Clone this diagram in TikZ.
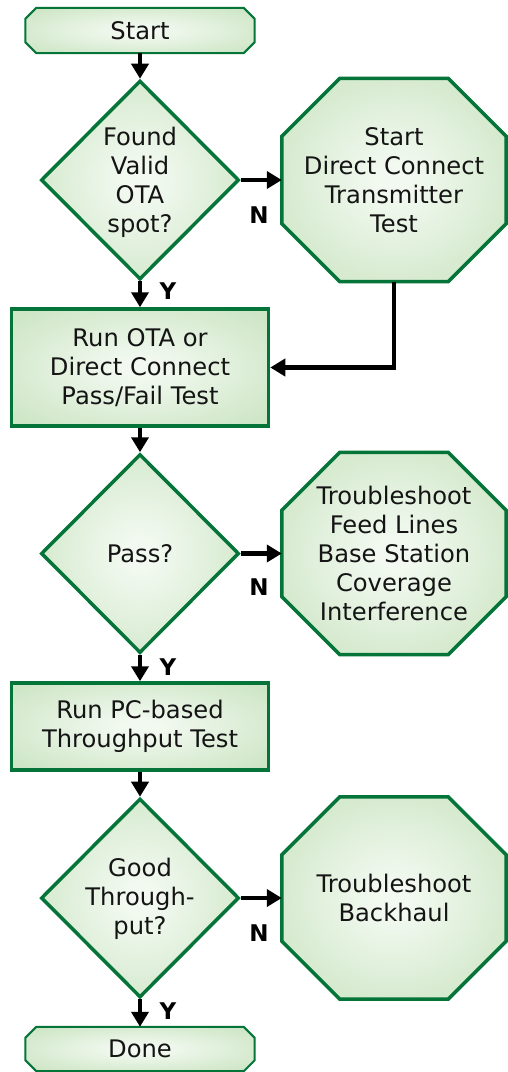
\documentclass[tikz,border=0pt]{standalone}
\usepackage{fontspec}
\setmainfont{DejaVu Sans}
\usetikzlibrary{shapes.geometric,arrows.meta,backgrounds}
\definecolor{gborder}{RGB}{5,116,56}
\definecolor{gin}{RGB}{242,249,240}
\definecolor{gout}{RGB}{206,230,198}
\pgfdeclareradialshading{greenrad}{\pgfpoint{0bp}{0bp}}{color(0bp)=(gin); color(4bp)=(gin); color(32bp)=(gout); color(50bp)=(gout)}
\newcommand\mainfnt{\fontsize{24.2}{29}\selectfont}
\newcommand\lblfnt{\fontsize{23}{26}\selectfont\bfseries}
\newcommand\chamf[3]{%
\path[#1] ([xshift=#3]#2.north west) -- ([xshift=-#3]#2.north east) -- ([yshift=-#3]#2.north east) -- ([yshift=#3]#2.south east) -- ([xshift=-#3]#2.south east) -- ([xshift=#3]#2.south west) -- ([yshift=#3]#2.south west) -- ([yshift=-#3]#2.north west) -- cycle;}
\tikzset{
 base/.style={draw=gborder, line width=3.5pt, shading=greenrad},
 dia/.style={base, diamond, minimum width=198pt, minimum height=199pt, inner sep=0pt},
 box/.style={base, rectangle, minimum width=257pt, inner sep=0pt, align=center, font=\mainfnt, text=black!92},
 txt/.style={align=center, font=\mainfnt, inner sep=0pt, text=black!92},
 arr/.style={line width=4.5pt, -{Triangle[length=15pt,width=17pt]}},
 lbl/.style={font=\lblfnt, inner sep=0pt},
 octfill/.style={draw=gborder, line width=3.5pt, shading=greenrad},
 termfill/.style={draw=gborder, line width=2pt, shading=greenrad},
}
\begin{document}
\begin{tikzpicture}[x=1pt,y=-1pt]
\useasboundingbox (0,0) rectangle (508,1072);
% terminals
\node[txt, minimum width=229pt, minimum height=45pt] (start) at (140,30.5) {Start};
\node[txt, minimum width=229pt, minimum height=44pt] (done) at (140,1049) {Done};
% decisions
\node[dia] (d1) at (140,180) {};
\node[txt] (d1t) at (140,182) {Found\\Valid\\OTA\\spot?};
\node[dia] (d2) at (140,553.5) {};
\node[txt] (d2t) at (140,553.5) {Pass?};
\node[dia] (d3) at (140,898) {};
\node[txt] (d3t) at (140,899) {Good\\Through-\\put?};
% processes
\node[box, minimum height=117pt] (r1) at (140,367.5) {Run OTA or\\Direct Connect\\Pass/Fail Test};
\node[box, minimum height=87pt] (r2) at (140,726.5) {Run PC-based\\Throughput Test};
% octagons
\node[txt, minimum width=224pt, minimum height=203pt] (o1) at (394,180) {Start\\Direct Connect\\Transmitter\\Test};
\node[txt, minimum width=224pt, minimum height=202pt] (o2) at (394,553.5) {Troubleshoot\\Feed Lines\\Base Station\\Coverage\\Interference};
\node[txt, minimum width=224pt, minimum height=202pt] (o3) at (394,898) {Troubleshoot\\Backhaul};
\begin{scope}[on background layer]
\chamf{termfill}{start}{11pt}
\chamf{termfill}{done}{11pt}
\chamf{octfill}{o1}{58pt}
\chamf{octfill}{o2}{58pt}
\chamf{octfill}{o3}{58pt}
\end{scope}
% connectors
\draw[arr] (start) -- (d1);
\draw[arr] (d1) -- (o1);
\draw[arr] (d1) -- (r1);
\draw[arr] (o1.south) |- (r1.east);
\draw[arr] (r1) -- (d2);
\draw[arr] (d2) -- (o2);
\draw[arr] (d2) -- (r2);
\draw[arr] (r2) -- (d3);
\draw[arr] (d3) -- (o3);
\draw[arr] (d3) -- (done);
% labels
\node[lbl] (n1) at (259,215) {N};
\node[lbl] (y1) at (168,291) {Y};
\node[lbl] (n2) at (259,587.5) {N};
\node[lbl] (y2) at (168,667) {Y};
\node[lbl] (n3) at (259,933) {N};
\node[lbl] (y3) at (168,1011) {Y};
\end{tikzpicture}
\end{document}
